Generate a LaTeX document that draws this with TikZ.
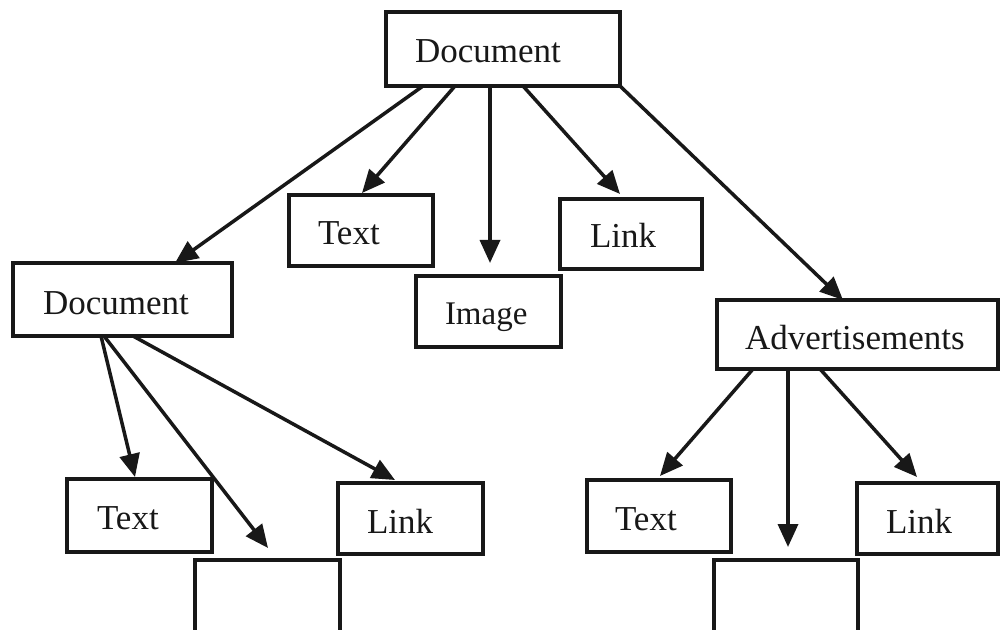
\documentclass[tikz,border=0pt]{standalone}
\usepackage{fontspec}
\setmainfont{Liberation Serif}
\usetikzlibrary{arrows.meta,calc}
\definecolor{ink}{RGB}{24,24,24}
\tikzset{
  box/.style={draw=ink, line width=3.3pt, rectangle, inner sep=0pt, outer sep=0pt},
  lbl/.style={anchor=base west, inner sep=0pt, outer sep=0pt, text=ink,
              font=\fontsize{35}{40}\selectfont},
  lblsmall/.style={lbl, font=\fontsize{33}{38}\selectfont},
  link/.style={draw=ink, line width=3.5pt, -{Triangle[length=23pt,width=20pt]}}
}
\begin{document}
\begin{tikzpicture}[x=1pt,y=1pt]
\useasboundingbox (0,0) rectangle (1000,629);
\clip (0,0) rectangle (1000,629);
\fill[white] (0,0) rectangle (1000,629);

% boxes
\node[box, minimum width=234pt, minimum height=74pt] (docT) at (503,580) {};
\node[box, minimum width=144pt, minimum height=71pt] (txtT) at (361,398.5) {};
\node[box, minimum width=145pt, minimum height=71pt] (imgT) at (488.5,317.5) {};
\node[box, minimum width=142pt, minimum height=70pt] (lnkT) at (631,395) {};
\node[box, minimum width=219pt, minimum height=73pt] (docL) at (122.5,329.5) {};
\node[box, minimum width=281pt, minimum height=69pt] (adv) at (857.5,294.5) {};
\node[box, minimum width=145pt, minimum height=73pt] (txtL) at (139.5,113.5) {};
\node[box, minimum width=145pt, minimum height=80pt] (blkL) at (267.5,29) {};
\node[box, minimum width=145pt, minimum height=71pt] (lnkL) at (410.5,110.5) {};
\node[box, minimum width=144pt, minimum height=72pt] (txtR) at (659,113) {};
\node[box, minimum width=144pt, minimum height=80pt] (blkR) at (786,29) {};
\node[box, minimum width=141pt, minimum height=71pt] (lnkR) at (927.5,110.5) {};

% labels
\node[lbl] (docT-t) at (415,566) {Document};
\node[lbl] (txtT-t) at (318,384) {Text};
\node[lbl] (lnkT-t) at (590,381) {Link};
\node[lblsmall] (imgT-t) at (445,304) {Image};
\node[lbl] (docL-t) at (43,314) {Document};
\node[lbl] (adv-t) at (745,279) {Advertisements};
\node[lbl] (txtL-t) at (97,100) {Text};
\node[lbl] (lnkL-t) at (367,96) {Link};
\node[lbl] (txtR-t) at (615,99) {Text};
\node[lbl] (lnkR-t) at (886,96) {Link};

% connectors from the root
\draw[link] ($(docT.south west)+(37,0)$) -- ($(docL.north west)+(162,0)$);
\draw[link] ($(docT.south west)+(69,0)$) -- ($(txtT.north west)+(73,2)$);
\draw[link] ($(docT.south west)+(104,0)$) -- ($(imgT.north west)+(74,13)$);
\draw[link] ($(docT.south west)+(137,0)$) -- ($(lnkT.north west)+(60,5)$);
\draw[link] (docT.south east) -- ($(adv.north west)+(126,0)$);

% connectors from the inner document
\draw[link] ($(docL.south west)+(88,0)$) -- ($(txtL.north west)+(68,2)$);
\draw[link] ($(docL.south west)+(91,0)$) -- ($(blkL.north west)+(73,12)$);
\draw[link] ($(docL.south west)+(120,0)$) -- ($(lnkL.north west)+(57,3)$);

% connectors from the advertisements
\draw[link] ($(adv.south west)+(36,0)$) -- ($(txtR.north west)+(73,4)$);
\draw[link] ($(adv.south west)+(71,0)$) -- ($(blkR.north west)+(74,13)$);
\draw[link] ($(adv.south west)+(103,0)$) -- ($(lnkR.north west)+(60,6)$);
\end{tikzpicture}
\end{document}
